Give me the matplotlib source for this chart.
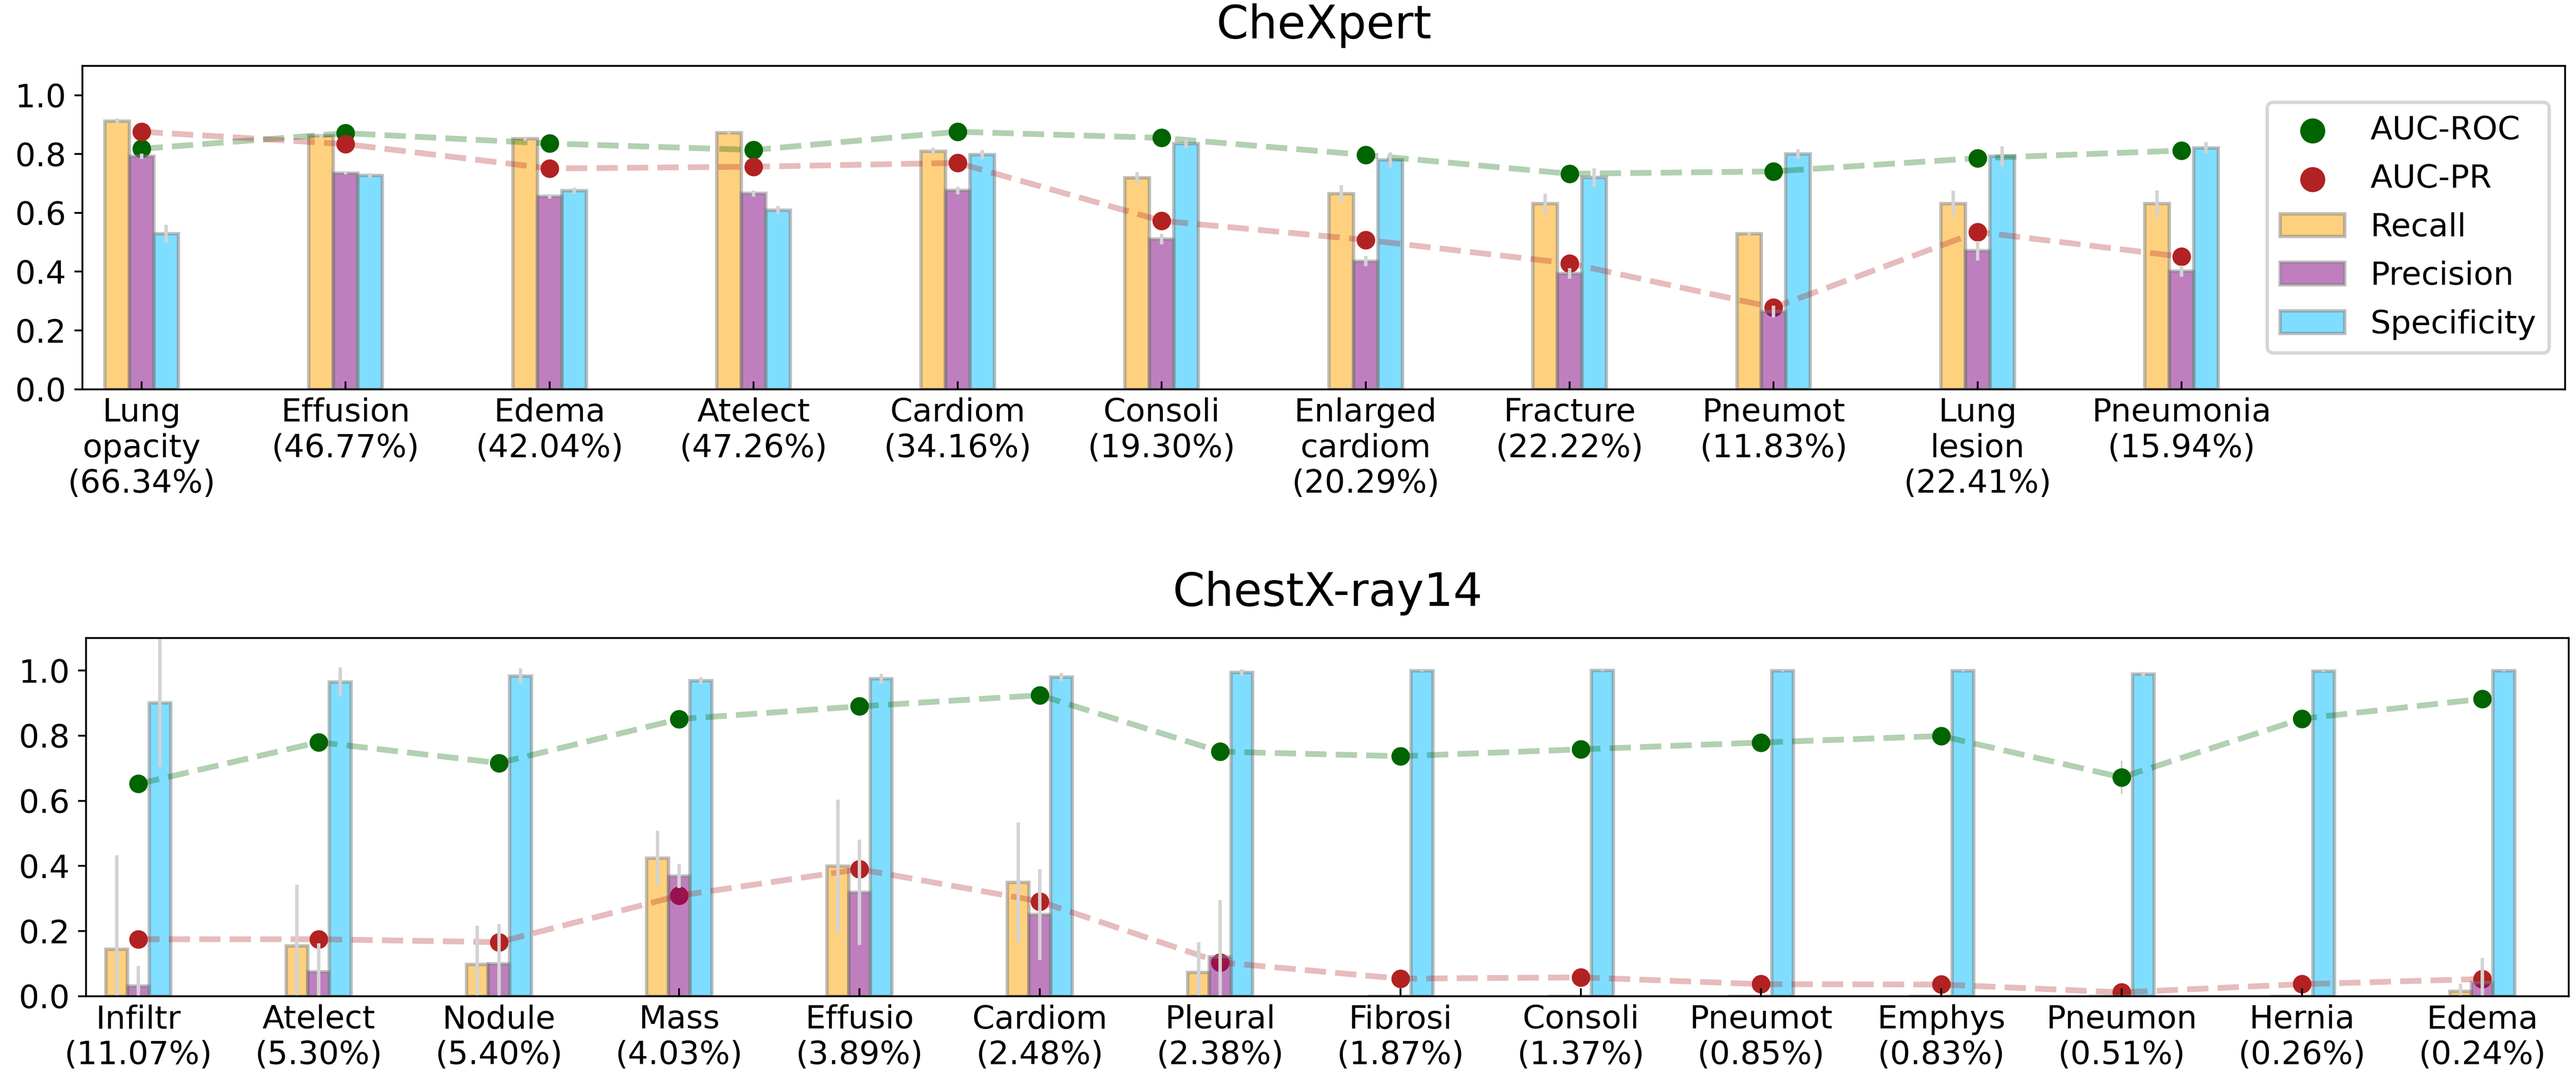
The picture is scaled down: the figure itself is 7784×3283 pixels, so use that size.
import numpy as np
import matplotlib
matplotlib.use('Agg')
import matplotlib.pyplot as plt

# ---- CheXpert ----
cx_names = ['Lung\nopacity', 'Effusion', 'Edema', 'Atelect', 'Cardiom', 'Consoli',
            'Enlarged\ncardiom', 'Fracture', 'Pneumot', 'Lung\nlesion', 'Pneumonia']
cx_prev = ['66.34%', '46.77%', '42.04%', '47.26%', '34.16%', '19.30%',
           '20.29%', '22.22%', '11.83%', '22.41%', '15.94%']
cx_roc = [0.818, 0.871, 0.836, 0.814, 0.876, 0.855, 0.797, 0.733, 0.741, 0.786, 0.812]
cx_pr = [0.876, 0.834, 0.751, 0.757, 0.770, 0.573, 0.508, 0.428, 0.278, 0.535, 0.451]
cx_recall = [0.912, 0.862, 0.852, 0.872, 0.809, 0.719, 0.665, 0.631, 0.529, 0.631, 0.631]
cx_recall_err = [0.009, 0.005, 0.007, 0.004, 0.013, 0.019, 0.029, 0.034, 0.007, 0.044, 0.046]
cx_prec = [0.793, 0.735, 0.656, 0.666, 0.676, 0.511, 0.436, 0.394, 0.264, 0.471, 0.402]
cx_prec_err = [0.009, 0.005, 0.008, 0.011, 0.013, 0.018, 0.017, 0.018, 0.020, 0.033, 0.019]
cx_spec = [0.529, 0.727, 0.675, 0.609, 0.798, 0.835, 0.780, 0.720, 0.800, 0.792, 0.821]
cx_spec_err = [0.030, 0.008, 0.011, 0.014, 0.016, 0.015, 0.026, 0.032, 0.016, 0.034, 0.020]
cx_roc_err = [0.005, 0.005, 0.005, 0.005, 0.005, 0.005, 0.005, 0.005, 0.005, 0.005, 0.005]

# ---- ChestX-ray14 ----
nih_names = ['Infiltr', 'Atelect', 'Nodule', 'Mass', 'Effusio', 'Cardiom', 'Pleural',
             'Fibrosi', 'Consoli', 'Pneumot', 'Emphys', 'Pneumon', 'Hernia', 'Edema']
nih_prev = ['11.07%', '5.30%', '5.40%', '4.03%', '3.89%', '2.48%', '2.38%',
            '1.87%', '1.37%', '0.85%', '0.83%', '0.51%', '0.26%', '0.24%']
nih_roc = [0.652, 0.780, 0.716, 0.851, 0.890, 0.924, 0.751, 0.737, 0.758, 0.779, 0.799, 0.672, 0.852, 0.913]
nih_pr = [0.175, 0.175, 0.166, 0.309, 0.390, 0.291, 0.104, 0.054, 0.058, 0.037, 0.036, 0.012, 0.037, 0.053]
nih_recall = [0.144, 0.154, 0.097, 0.424, 0.399, 0.350, 0.073, 0.0, 0.0, 0.0, 0.0, 0.0, 0.0, 0.015]
nih_recall_err = [0.289, 0.188, 0.119, 0.084, 0.205, 0.184, 0.093, 0.0, 0.0, 0.0, 0.0, 0.0, 0.0, 0.023]
nih_prec = [0.031, 0.075, 0.099, 0.369, 0.319, 0.251, 0.121, 0.0, 0.0, 0.0, 0.0, 0.0, 0.0, 0.042]
nih_prec_err = [0.062, 0.088, 0.122, 0.037, 0.162, 0.139, 0.174, 0.0, 0.0, 0.0, 0.0, 0.0, 0.0, 0.076]
nih_spec = [0.901, 0.965, 0.983, 0.969, 0.975, 0.980, 0.994, 0.999, 1.0, 0.999, 0.999, 0.989, 0.998, 0.999]
nih_spec_err = [0.197, 0.044, 0.023, 0.011, 0.015, 0.013, 0.010, 0.002, 0.002, 0.002, 0.002, 0.007, 0.002, 0.002]
nih_roc_err = [0.01, 0.01, 0.01, 0.01, 0.01, 0.01, 0.01, 0.01, 0.01, 0.01, 0.01, 0.051, 0.01, 0.025]

plt.rcParams['font.family'] = 'DejaVu Sans'
plt.rcParams['font.size'] = 14

w = 0.12


def draw(ax, names, prev, roc, roc_err, pr, rec, rec_err, prec, prec_err, spec, spec_err, title, pad):
    x = np.arange(len(names))
    # dashed AUC lines + dots
    ax.plot(x, roc, '--', color='darkgreen', alpha=0.3, lw=2.5)
    ax.plot(x, pr, '--', color='firebrick', alpha=0.3, lw=2.5)
    ax.errorbar(x, roc, yerr=roc_err, fmt='none', ecolor='darkgreen', alpha=0.3, elinewidth=0.6)
    ax.scatter(x, roc, s=50, color='darkgreen', label='AUC-ROC')
    ax.scatter(x, pr, s=50, color='firebrick', label='AUC-PR')
    ekw = dict(ecolor='lightgray', elinewidth=1.5, capsize=0)
    ax.bar(x - w, rec, w, yerr=rec_err, color='orange', alpha=0.5, edgecolor='grey',
           linewidth=1.5, error_kw=ekw, label='Recall')
    ax.bar(x, prec, w, yerr=prec_err, color='purple', alpha=0.5, edgecolor='grey',
           linewidth=1.5, error_kw=ekw, label='Precision')
    ax.bar(x + w, spec, w, yerr=spec_err, color='deepskyblue', alpha=0.5, edgecolor='grey',
           linewidth=1.5, error_kw=ekw, label='Specificity')
    ax.set_xticks(x)
    ax.set_xticklabels([n + '\n(' + p + ')' for n, p in zip(names, prev)], fontsize=14)
    ax.set_ylim(0, 1.1)
    ax.set_yticks([0.0, 0.2, 0.4, 0.6, 0.8, 1.0])
    ax.tick_params(axis='x', direction='in')
    ax.tick_params(axis='y', labelsize=14)
    ax.set_title(title, fontsize=20, pad=pad)


fig = plt.figure(figsize=(15.568, 6.566))
ax1 = fig.add_axes([0.0320, 0.6419, 0.9638, 0.2975])
ax2 = fig.add_axes([0.0334, 0.0835, 0.9638, 0.3296])

draw(ax1, cx_names, cx_prev, cx_roc, cx_roc_err, cx_pr, cx_recall, cx_recall_err,
     cx_prec, cx_prec_err, cx_spec, cx_spec_err, 'CheXpert', 12)
ax1.set_xlim(-0.29, 11.88)
leg = ax1.legend(loc='center right', fontsize=14, markerscale=1.4, labelspacing=0.55)
leg.get_frame().set_linewidth(1.5)

draw(ax2, nih_names, nih_prev, nih_roc, nih_roc_err, nih_pr, nih_recall, nih_recall_err,
     nih_prec, nih_prec_err, nih_spec, nih_spec_err, 'ChestX-ray14', 14)
ax2.set_xlim(-0.29, 13.48)

fig.savefig('out.png', dpi=500)
